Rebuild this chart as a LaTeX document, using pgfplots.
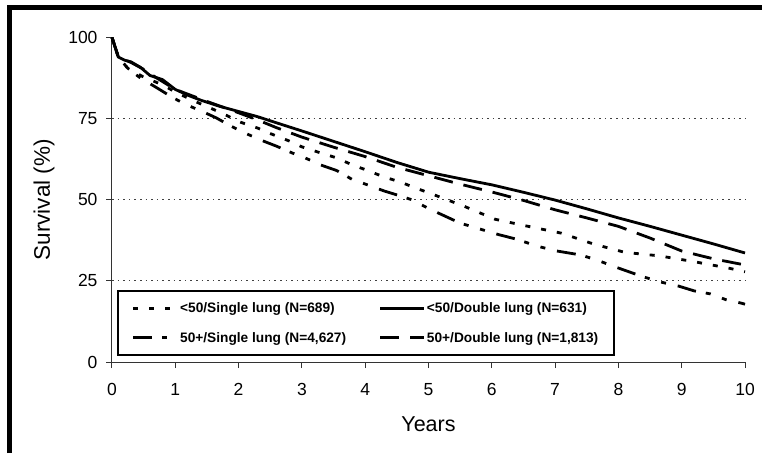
\documentclass[border=0pt]{standalone}
\usepackage{fontspec}
\setmainfont{Liberation Sans}
\usepackage{pgfplots}
\pgfplotsset{compat=1.18}

% survival curves
\pgfplotstableread{
x y
0 100
0.1 94
0.25 90.5
0.5 87.8
0.8 85.4
1.0 83.2
1.3 80.4
1.55 78.3
1.8 76.1
2.0 74.1
2.3 72.1
2.5 70.4
2.8 68.1
3.0 66.3
3.3 64.4
3.55 62.9
3.8 60.7
4.0 59.3
4.3 57.0
4.55 55.5
4.8 53.6
5.05 51.8
5.55 48.1
6.05 44.0
6.55 41.9
7.1 39.7
7.6 36.4
8.1 33.8
8.65 32.7
9.2 30.9
9.75 28.9
10 27.8
}\youngsingle

\pgfplotstableread{
x y
0 100
0.05 97
0.1 94
0.2 93
0.3 92.5
0.45 90.8
0.6 88.3
0.8 87
1.0 84
1.2 82.2
1.4 80.7
1.7 78.8
2.0 77.2
2.3 75.6
2.6 73.7
3.0 71.2
3.5 68.0
4.0 64.8
4.5 61.5
5.0 58.5
5.5 56.5
6.0 54.6
6.5 52.3
7.0 49.9
7.5 47.2
8.0 44.4
8.5 41.8
9.0 39.1
9.5 36.4
10 33.6
}\youngdouble

\pgfplotstableread{
x y
0 100
0.1 94
0.25 90.5
0.45 87.5
0.7 84.6
0.95 81.6
1.15 79.5
1.45 77.0
1.65 75.2
1.85 73.0
2.05 71.0
2.35 68.4
2.6 66.5
2.85 64.4
3.05 62.9
3.3 60.7
3.55 59.0
3.8 56.2
4.05 54.5
4.3 52.7
4.55 51.2
4.75 49.9
5.0 47.3
5.2 45.5
5.5 42.8
6.1 39.3
6.4 37.8
6.7 35.8
7.0 34.3
7.4 33.0
7.65 31.5
7.95 29.3
8.4 26.2
8.7 24.5
8.95 23.4
9.2 21.9
9.45 21.0
9.7 19.2
9.95 18.1
10 17.8
}\oldsingle

\pgfplotstableread{
x y
0 100
0.1 94
0.3 92.3
0.5 90.2
0.7 87.6
1.0 84
1.5 80.3
2.0 76.8
2.3 74.6
2.6 72.2
3.0 69.3
3.5 66.2
4.0 63.3
4.5 60.0
5.0 57.4
5.5 54.8
6.0 52.4
6.5 49.8
7.0 46.9
7.5 44.4
8.0 41.8
8.5 38.2
9.0 34.2
9.5 31.8
10 29.9
}\olddouble

\begin{document}
\begin{tikzpicture}
\useasboundingbox (-112pt,-91pt) rectangle (650pt,362pt);
\begin{axis}[
    at={(0,0)}, anchor=south west,
    scale only axis,
    width=633pt, height=324.5pt,
    xmin=0, xmax=10, ymin=0, ymax=100,
    axis lines=left,
    axis line style={-, line width=1pt, black!80},
    clip=false,
    xtick={0,1,...,10},
    ytick={0,25,50,75,100},
    tick align=outside,
    major tick length=6pt,
    tick style={line width=1pt, black!80},
    extra y ticks={25,50,75},
    extra y tick labels={},
    extra y tick style={ymajorgrids=true, major tick length=0pt},
    grid style={line width=1pt, black!75, dash pattern=on 1.6pt off 4pt},
    /pgf/number format/assume math mode=true,
    ticklabel style={font=\fontsize{17.5}{20}\selectfont},
    xticklabel style={yshift=-12pt},
    yticklabel style={xshift=-5pt},
    xlabel={Years},
    ylabel={Survival (\%)},
    every axis x label/.style={at={(rel axis cs:0.5,0)}, yshift=-62pt, anchor=center,
        font=\fontsize{21.5}{24}\selectfont},
    every axis y label/.style={at={(rel axis cs:0,0.5)}, xshift=-68pt, rotate=90, anchor=center,
        font=\fontsize{22.5}{24}\selectfont},
    legend columns=2,
    legend cell align=left,
    legend style={at={(rel axis cs:0.0079,0.0185)}, anchor=south west,
        draw=black, line width=1.8pt, inner xsep=14pt, inner ysep=10pt,
        font=\fontsize{13.7}{16}\selectfont\bfseries,
        nodes={inner sep=1.5pt}, row sep=15pt},
    /tikz/every even column/.append style={column sep=31pt},
    legend image code/.code={\draw[#1] (0pt,0pt) -- (44pt,0pt);},
    every axis plot/.append style={black, line width=2.8pt, line join=round},
]
\addplot[dash pattern=on 5pt off 11pt] table {\youngsingle};
\addlegendentry{<50/Single lung (N=689)}
\addplot[solid] table {\youngdouble};
\addlegendentry{<50/Double lung (N=631)}
\addplot[dash pattern=on 19pt off 10pt on 5pt off 12pt on 5pt off 12pt] table {\oldsingle};
\addlegendentry{50+/Single lung (N=4,627)}
\addplot[dash pattern=on 19pt off 11pt] table {\olddouble};
\addlegendentry{50+/Double lung (N=1,813)}
\end{axis}
\draw[line width=5pt] (-102.5pt,-91pt) -- (-102.5pt,354.5pt) -- (650pt,354.5pt);
\end{tikzpicture}
\end{document}
